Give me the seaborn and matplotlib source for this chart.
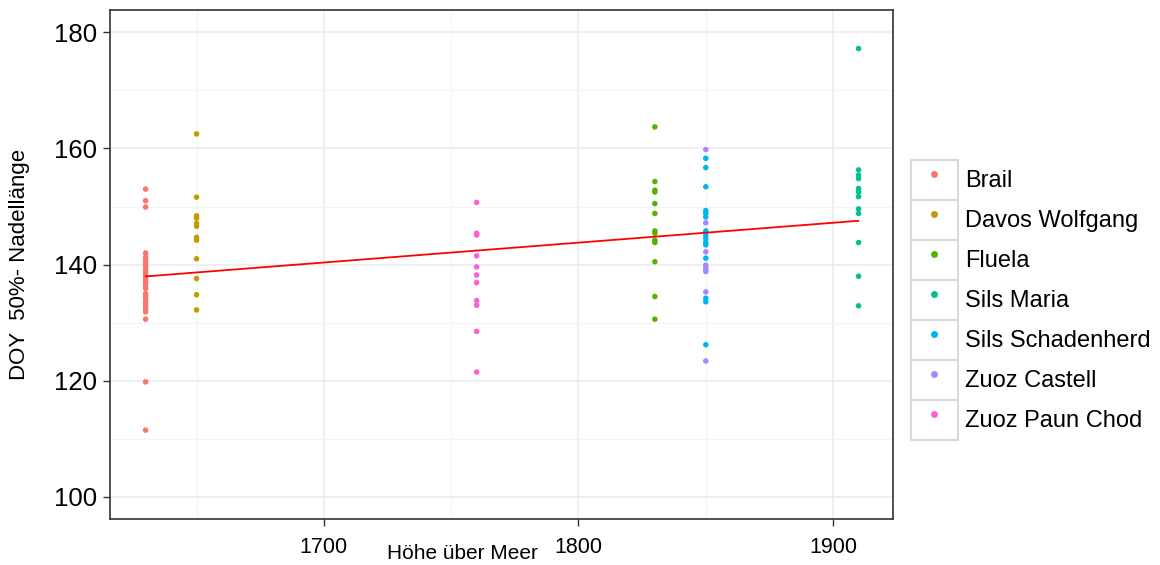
import numpy as np
import pandas as pd
import matplotlib
matplotlib.use("Agg")
import matplotlib.pyplot as plt
from matplotlib.patches import Rectangle
from matplotlib.lines import Line2D
from matplotlib.legend_handler import HandlerTuple
from matplotlib.ticker import MultipleLocator
import seaborn as sns

# Standorte, Hoehe ueber Meer und DOY-Werte
standorte = ["Brail", "Davos Wolfgang", "Fluela", "Sils Maria",
             "Sils Schadenherd", "Zuoz Castell", "Zuoz Paun Chod"]
hoehe = [1630, 1650, 1830, 1910, 1850, 1850, 1760]

doy_brail = [153.0, 151.0, 149.9, 142.0, 141.3, 140.7, 140.2, 139.7, 139.2, 138.7,
             138.2, 137.9, 137.4, 136.9, 136.4, 135.9, 135.0, 134.6, 134.2, 133.6,
             133.2, 132.8, 132.3, 131.9, 130.6, 119.8, 111.5]
doy_davos = [162.5, 151.6, 148.4, 148.0, 147.1, 146.6, 144.7, 144.2, 141.0, 137.6,
             134.8, 132.2]
doy_fluela = [163.7, 154.3, 152.8, 152.5, 150.5, 148.8, 145.8, 145.4, 144.2, 143.8,
              140.5, 134.5, 130.6]
doy_sils_maria = [177.2, 156.3, 155.4, 154.8, 153.1, 152.5, 151.7, 149.6, 148.8,
                  143.8, 138.0, 132.9]
doy_sils_schadenherd = [158.3, 156.7, 153.4, 149.3, 148.8, 148.2, 145.8, 145.1, 144.5,
                        143.9, 143.4, 141.1, 134.2, 133.6, 126.2]
doy_zuoz_castell = [159.8, 147.2, 142.2, 139.9, 139.5, 139.1, 138.8, 135.3, 123.4]
doy_zuoz_paun = [150.7, 145.4, 145.1, 141.5, 139.6, 138.2, 136.9, 133.8, 133.0,
                 128.5, 121.5]

farben = ["#F8766D", "#C49A00", "#53B400", "#00C094", "#00B6EB", "#A58AFF", "#FB61D7"]


def build_frame():
    werte = [doy_brail, doy_davos, doy_fluela, doy_sils_maria,
             doy_sils_schadenherd, doy_zuoz_castell, doy_zuoz_paun]
    rows = []
    for name, h, vals in zip(standorte, hoehe, werte):
        for v in vals:
            rows.append({"Standort": name, "Hoehe": h, "DOY": v})
    return pd.DataFrame(rows)


def main():
    df = build_frame()

    sns.set_theme(style="white")
    plt.rcParams["font.family"] = ["Liberation Sans", "DejaVu Sans"]

    fig = plt.figure(figsize=(11.6, 5.65), dpi=100)
    ax = fig.add_axes([0.0948, 0.0814, 0.6752, 0.9006])

    # Gitter wie bei ggplot (Haupt- und Nebenlinien)
    ax.set_axisbelow(True)
    ax.xaxis.set_major_locator(MultipleLocator(100))
    ax.xaxis.set_minor_locator(MultipleLocator(50))
    ax.yaxis.set_major_locator(MultipleLocator(20))
    ax.yaxis.set_minor_locator(MultipleLocator(10))
    ax.grid(which="major", color="#EBEBEB", lw=1.1)
    ax.grid(which="minor", color="#F4F4F4", lw=0.8)

    sns.scatterplot(data=df, x="Hoehe", y="DOY", hue="Standort",
                    hue_order=standorte, palette=farben, s=16, linewidth=0,
                    legend=False, ax=ax, zorder=3)
    sns.regplot(data=df, x="Hoehe", y="DOY", scatter=False, ci=None,
                color="red", line_kws={"lw": 1.3, "zorder": 4}, ax=ax)

    ax.set_xlim(1616, 1923.6)
    ax.set_ylim(96.2, 183.8)

    for s in ax.spines.values():
        s.set_color("#333333")
        s.set_linewidth(1.2)
    ax.tick_params(which="major", length=5, width=1, color="#333333",
                   bottom=True, left=True)
    ax.tick_params(which="minor", length=0)
    ax.tick_params(axis="y", labelsize=18.5, pad=4, labelcolor="black")
    ax.tick_params(axis="x", labelsize=15.5, pad=8, labelcolor="black")

    ax.set_xlabel("Höhe über Meer", fontsize=15, color="black")
    ax.xaxis.set_label_coords(0.45, -0.05)
    ax.set_ylabel("DOY  50%- Nadellänge", fontsize=16, color="black")
    ax.yaxis.set_label_coords(-0.102, 0.5)

    # Legende mit Kaestchen um die Schluessel
    handles = []
    for c in farben:
        box = Rectangle((0, 0), 1, 1, facecolor="white", edgecolor="#D9D9D9", lw=1.5)
        dot = Line2D([], [], marker="o", ls="", color=c, markersize=5,
                     markeredgewidth=0)
        handles.append((box, dot))
    fig.legend(handles, standorte, handler_map={tuple: HandlerTuple(ndivide=1)},
               loc="center left", bbox_to_anchor=(0.785, 0.469), frameon=False,
               fontsize=17, handlelength=1.99, handleheight=2.23,
               labelspacing=0.0, handletextpad=0.3, borderpad=0.0,
               borderaxespad=0.0, labelcolor="black")

    fig.savefig("out.png", dpi=100)


if __name__ == "__main__":
    main()
